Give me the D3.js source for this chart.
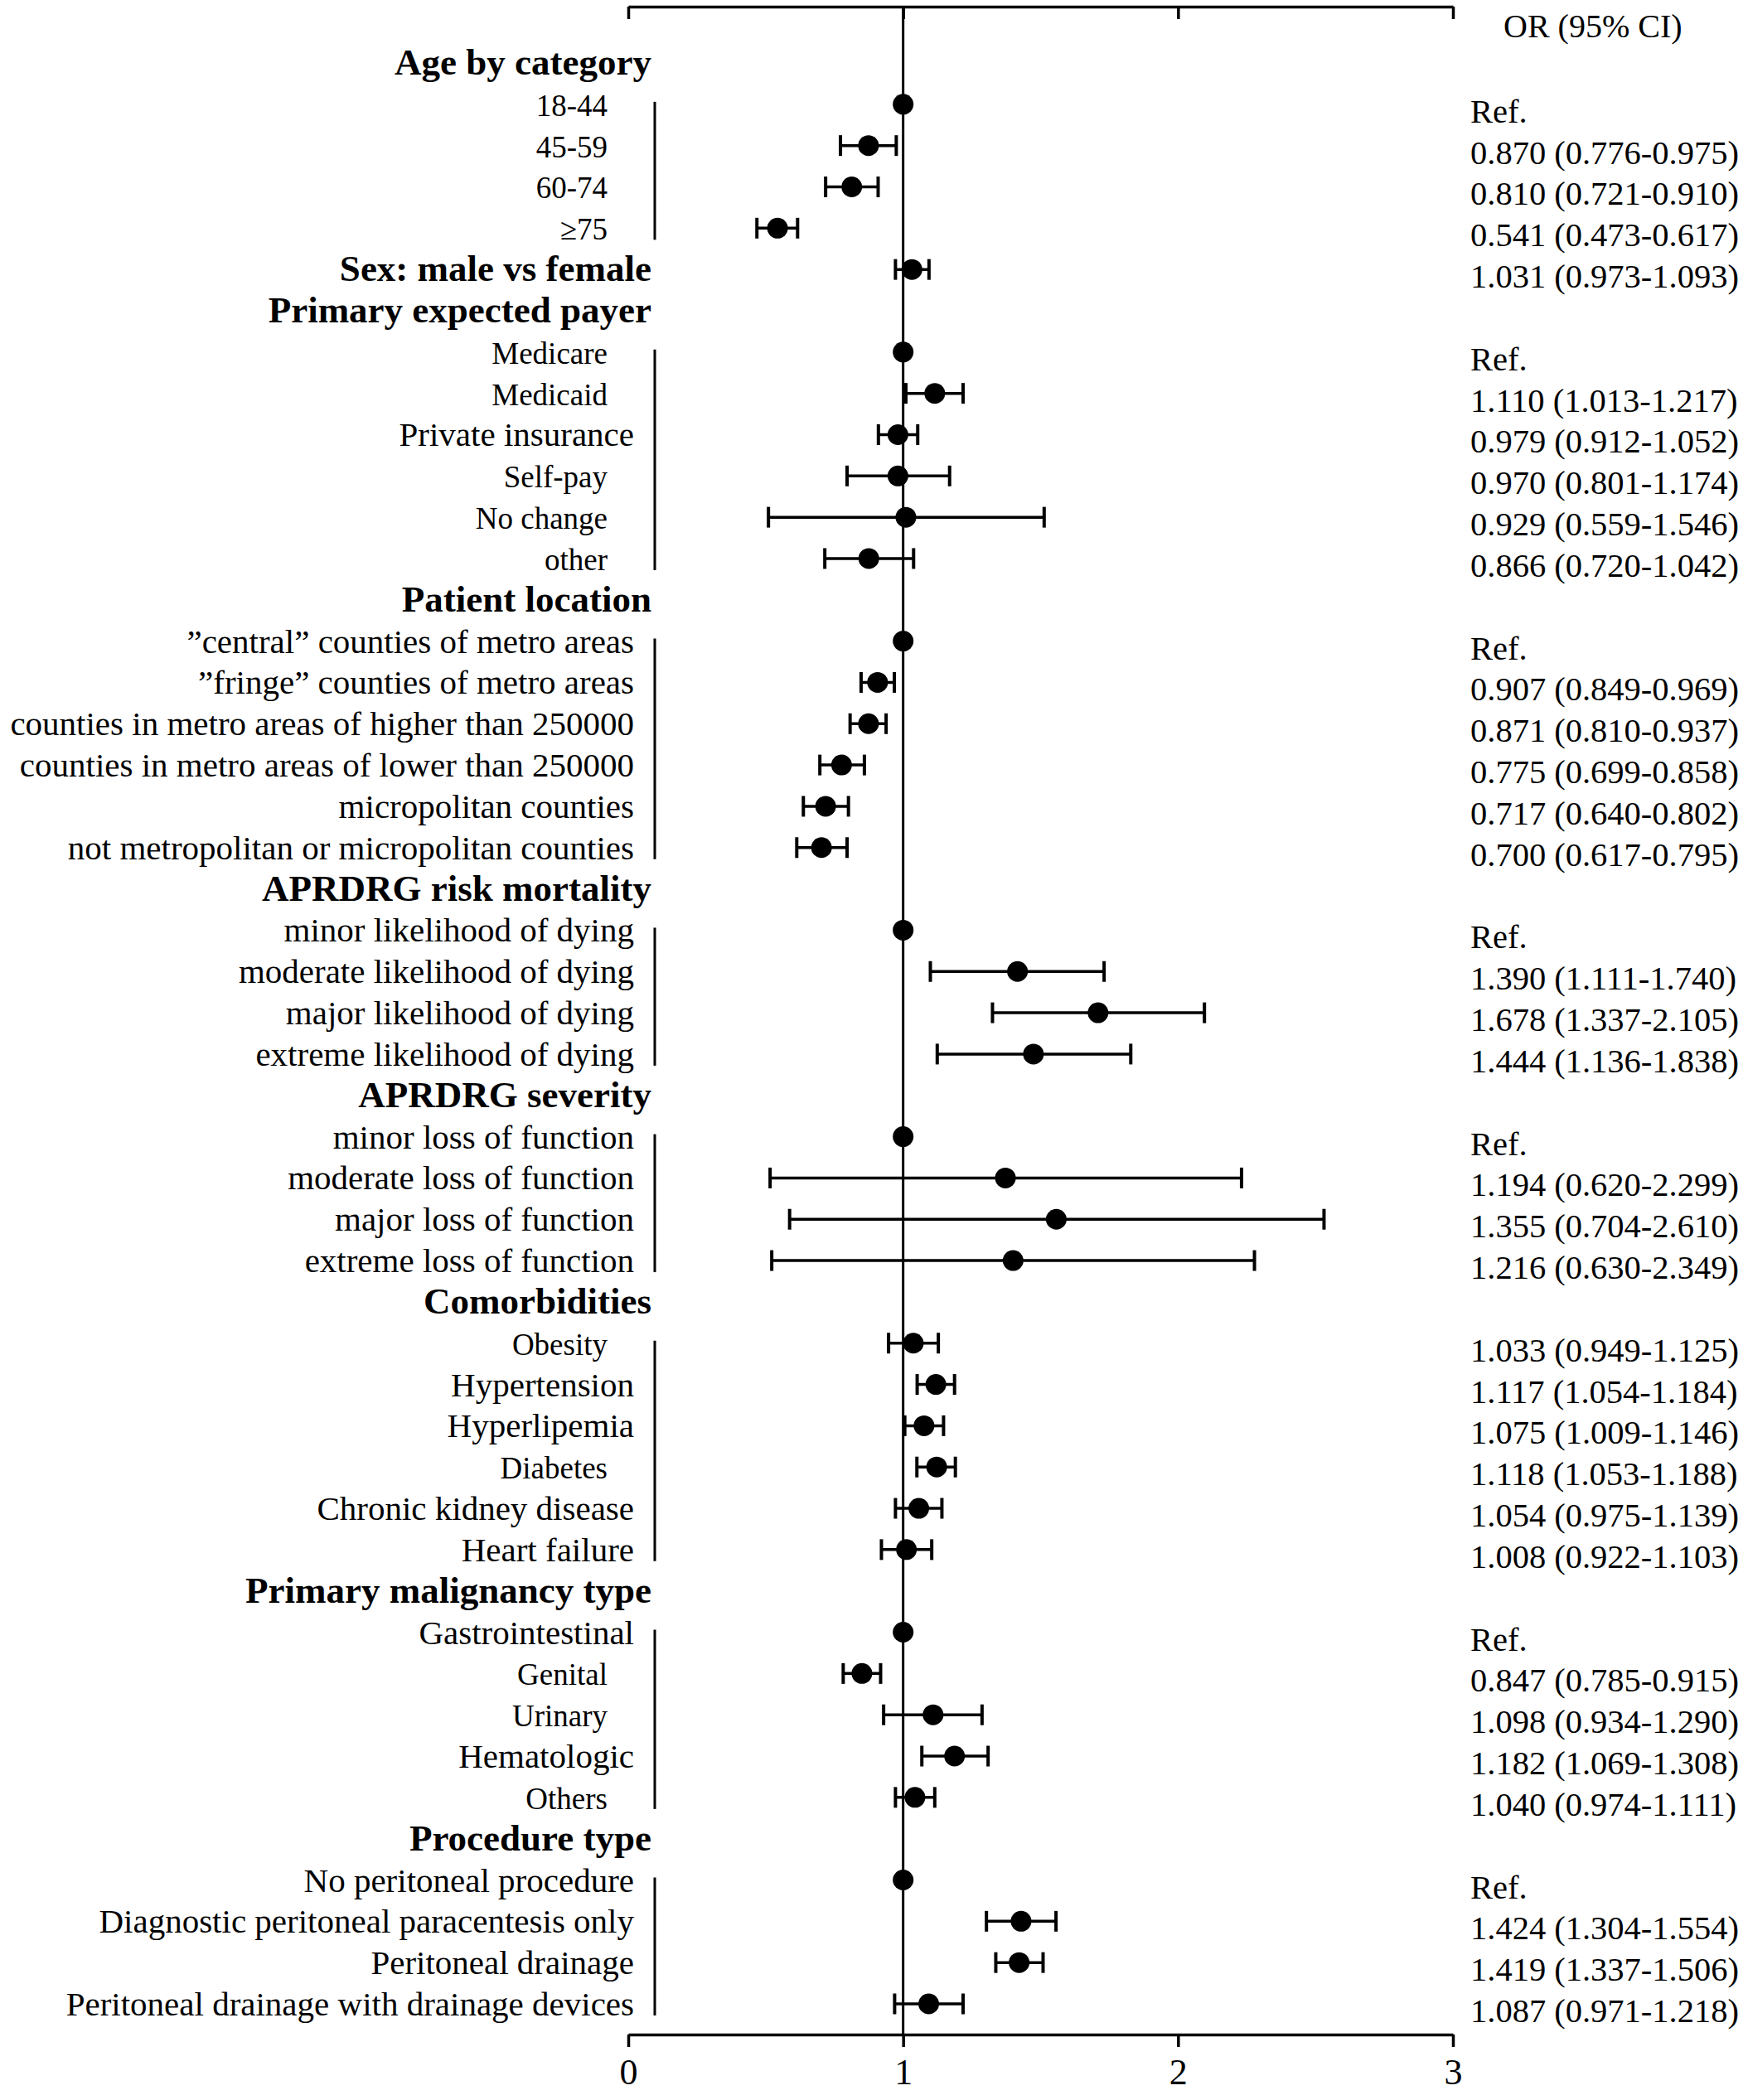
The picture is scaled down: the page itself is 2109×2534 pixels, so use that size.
<!doctype html>
<html>
<head>
    <meta charset="UTF-8">
    <title>Forest plot</title>
    <script src="https://d3js.org/d3.v7.min.js"></script>
    <style>
        body { margin: 0; background: #fff; overflow: hidden; }
        svg { display: block; }
        text { font-family: "Liberation Serif", "Times New Roman", serif; fill: #000; }
    </style>
</head>
<body>
<script>
    // rows of the plot, top to bottom
    var labels = [
        "Age by category", "18-44", "45-59", "60-74", "\u226575",
        "Sex: male vs female",
        "Primary expected payer", "Medicare", "Medicaid", "Private insurance", "Self-pay", "No change", "other",
        "Patient location", "\u201Dcentral\u201D counties of metro areas", "\u201Dfringe\u201D counties of metro areas",
        "counties in metro areas of higher than 250000", "counties in metro areas of lower than 250000",
        "micropolitan counties", "not metropolitan or micropolitan counties",
        "APRDRG risk mortality", "minor likelihood of dying", "moderate likelihood of dying",
        "major likelihood of dying", "extreme likelihood of dying",
        "APRDRG severity", "minor loss of function", "moderate loss of function",
        "major loss of function", "extreme loss of function",
        "Comorbidities", "Obesity", "Hypertension", "Hyperlipemia", "Diabetes", "Chronic kidney disease", "Heart failure",
        "Primary malignancy type", "Gastrointestinal", "Genital", "Urinary", "Hematologic", "Others",
        "Procedure type", "No peritoneal procedure", "Diagnostic peritoneal paracentesis only",
        "Peritoneal drainage", "Peritoneal drainage with drainage devices"
    ];
    // bold lines
    var headers = ["Age by category", "Sex: male vs female", "Primary expected payer", "Patient location",
        "APRDRG risk mortality", "APRDRG severity", "Comorbidities", "Primary malignancy type", "Procedure type"];

    var est = [null, 1, 0.874, 0.813, 0.543,
        1.032,
        null, 1, 1.115, 0.981, 0.981, 1.010, 0.875,
        null, 1, 0.907, 0.874, 0.776, 0.718, 0.703,
        null, 1, 1.416, 1.709, 1.474,
        null, 1, 1.372, 1.557, 1.400,
        null, 1.037, 1.119, 1.076, 1.122, 1.057, 1.012,
        null, 1, 0.850, 1.109, 1.187, 1.043,
        null, 1, 1.429, 1.422, 1.093];
    var lo = [null, null, 0.772, 0.718, 0.468,
        0.972,
        null, null, 1.010, 0.910, 0.796, 0.510, 0.715,
        null, null, 0.847, 0.807, 0.697, 0.637, 0.613,
        null, null, 1.099, 1.325, 1.124,
        null, null, 0.516, 0.587, 0.522,
        null, 0.947, 1.051, 1.006, 1.050, 0.972, 0.921,
        null, null, 0.782, 0.929, 1.068, 0.972,
        null, null, 1.303, 1.337, 0.969];
    var hi = [null, null, 0.975, 0.909, 0.616,
        1.094,
        null, null, 1.218, 1.053, 1.169, 1.513, 1.038,
        null, null, 0.968, 0.938, 0.859, 0.801, 0.796,
        null, null, 1.731, 2.096, 1.828,
        null, null, 2.231, 2.531, 2.278,
        null, 1.128, 1.187, 1.147, 1.190, 1.141, 1.104,
        null, null, 0.918, 1.287, 1.309, 1.115,
        null, null, 1.556, 1.509, 1.218];

    // right column text
    var orText = ["", "Ref.", "0.870 (0.776-0.975)", "0.810 (0.721-0.910)", "0.541 (0.473-0.617)",
        "1.031 (0.973-1.093)",
        "", "Ref.", "1.110 (1.013-1.217)", "0.979 (0.912-1.052)", "0.970 (0.801-1.174)", "0.929 (0.559-1.546)", "0.866 (0.720-1.042)",
        "", "Ref.", "0.907 (0.849-0.969)", "0.871 (0.810-0.937)", "0.775 (0.699-0.858)", "0.717 (0.640-0.802)", "0.700 (0.617-0.795)",
        "", "Ref.", "1.390 (1.111-1.740)", "1.678 (1.337-2.105)", "1.444 (1.136-1.838)",
        "", "Ref.", "1.194 (0.620-2.299)", "1.355 (0.704-2.610)", "1.216 (0.630-2.349)",
        "", "1.033 (0.949-1.125)", "1.117 (1.054-1.184)", "1.075 (1.009-1.146)", "1.118 (1.053-1.188)", "1.054 (0.975-1.139)", "1.008 (0.922-1.103)",
        "", "Ref.", "0.847 (0.785-0.915)", "1.098 (0.934-1.290)", "1.182 (1.069-1.308)", "1.040 (0.974-1.111)",
        "", "Ref.", "1.424 (1.304-1.554)", "1.419 (1.337-1.506)", "1.087 (0.971-1.218)"];

    var ticks = [0, 1, 2, 3];

    var w = 2109;
    var h = 2534;
    var axisTop = 8, axisBottom = 2455;

    // labels drawn in the smaller size
    var small = ["18-44", "45-59", "60-74", "\u226575", "Medicare", "Medicaid", "Self-pay", "No change", "other",
        "Obesity", "Diabetes", "Genital", "Urinary", "Others"];

    var svg = d3.select("body").append("svg")
        .attr("width", w)
        .attr("height", h);

    var x = d3.scaleLinear().domain([0, 3]).range([758, 1753]);
    var y = d3.scalePoint().domain(d3.range(labels.length)).range([76, 2418]);

    // top axis: ticks only, no labels
    var gTop = svg.append("g")
        .attr("transform", "translate(0," + axisTop + ")")
        .call(d3.axisBottom(x).tickValues(ticks).tickSize(15).tickSizeOuter(0).tickFormat(""));

    // bottom axis
    var gBot = svg.append("g")
        .attr("transform", "translate(0," + axisBottom + ")")
        .call(d3.axisBottom(x).tickValues(ticks).tickSize(15).tickSizeOuter(0).tickPadding(14).tickFormat(d3.format("d")));

    [gTop, gBot].forEach(function(g){
        g.select(".domain").attr("stroke", "#000").attr("stroke-width", 3.5);
        g.selectAll(".tick line").attr("stroke", "#000").attr("stroke-width", 3.5);
        g.selectAll(".tick text")
            .attr("font-size", 44)
            .attr("fill", "#000");
    });

    // reference line at OR = 1
    svg.append("line")
        .attr("x1", x(1)).attr("x2", x(1))
        .attr("y1", axisTop).attr("y2", axisBottom)
        .attr("stroke", "#000")
        .attr("stroke-width", 3);

    // left labels
    svg.append("g").selectAll("text")
        .data(labels)
        .enter().append("text")
        .attr("x", function(d){
            if (headers.indexOf(d) >= 0) return 786;
            return small.indexOf(d) >= 0 ? 733 : 765;
        })
        .attr("y", function(d, i){ return y(i) + 14; })
        .attr("text-anchor", "end")
        .attr("font-weight", function(d){ return headers.indexOf(d) >= 0 ? "bold" : "normal"; })
        .attr("font-size", function(d){
            if (headers.indexOf(d) >= 0) return 45;
            return small.indexOf(d) >= 0 ? 37 : 41;
        })
        .text(function(d){ return d; });

    // group brackets, one per run of sub-rows
    var runs = [];
    labels.forEach(function(d, i){
        var sub = headers.indexOf(d) < 0;
        if (sub && (i === 0 || headers.indexOf(labels[i - 1]) >= 0)) runs.push([i, i]);
        else if (sub) runs[runs.length - 1][1] = i;
    });
    svg.append("g").selectAll("line")
        .data(runs)
        .enter().append("line")
        .attr("x1", 790).attr("x2", 790)
        .attr("y1", function(r){ return y(r[0]) - 3; })
        .attr("y2", function(r){ return y(r[1]) + 14; })
        .attr("stroke", "#000")
        .attr("stroke-width", 3);

    // error bars
    var idx = d3.range(labels.length).filter(function(i){ return lo[i] !== null; });
    var bars = svg.append("g").selectAll("g")
        .data(idx)
        .enter().append("g");
    bars.append("line")
        .attr("x1", function(i){ return x(lo[i]); })
        .attr("x2", function(i){ return x(hi[i]); })
        .attr("y1", function(i){ return y(i); })
        .attr("y2", function(i){ return y(i); })
        .attr("stroke", "#000").attr("stroke-width", 3.5);
    [lo, hi].forEach(function(arr){
        bars.append("line")
            .attr("x1", function(i){ return x(arr[i]); })
            .attr("x2", function(i){ return x(arr[i]); })
            .attr("y1", function(i){ return y(i) - 12.5; })
            .attr("y2", function(i){ return y(i) + 12.5; })
            .attr("stroke", "#000").attr("stroke-width", 4);
    });

    // points
    svg.append("g").selectAll("circle")
        .data(d3.range(labels.length).filter(function(i){ return est[i] !== null; }))
        .enter().append("circle")
        .attr("cx", function(i){ return x(est[i]); })
        .attr("cy", function(i){ return y(i); })
        .attr("r", 12.5)
        .attr("fill", "#000");

    // right column
    svg.append("text")
        .attr("x", 1814).attr("y", 45)
        .attr("font-size", 40)
        .text("OR (95% CI)");

    svg.append("g").selectAll("text")
        .data(orText)
        .enter().append("text")
        .attr("x", 1774)
        .attr("y", function(d, i){ return y(i) + 22; })
        .attr("font-size", 40.5)
        .text(function(d){ return d; });
</script>
</body>
</html>
